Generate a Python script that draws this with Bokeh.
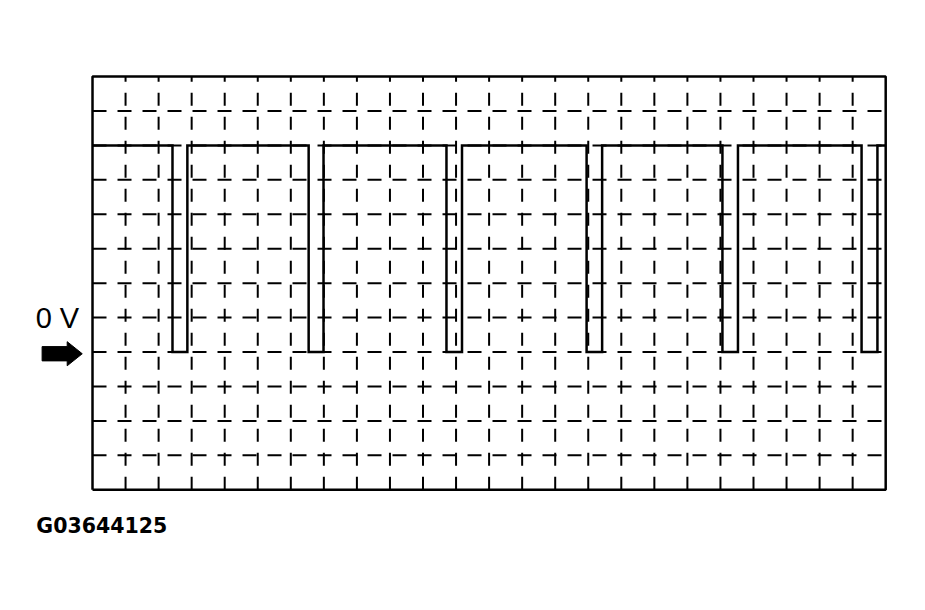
from bokeh.plotting import figure
from bokeh.models import Range1d
from bokeh.embed import file_html
from bokeh.resources import INLINE
from bokeh.core.properties import value

# ---- data (x in screen divisions, y in volts, 2 V per division) ----
x_grid = list(range(1, 24))            # vertical graticule lines
y_grid = list(range(-6, 16, 2))        # horizontal graticule lines (V)
x_min, x_max = 0, 24
y_min, y_max = -8, 16
high_level = 12.0
low_level = 0.0
fall_times = [2.42, 6.54, 10.71, 14.95, 19.06, 23.27]
rise_times = [2.87, 6.99, 11.18, 15.42, 19.53, 23.75]
zero_label = "0 V"
figure_code = "G03644125"

# ---- build trace ----
wx = [x_min]
wy = [high_level]
for f, r in zip(fall_times, rise_times):
    wx += [f, f, r, r]
    wy += [high_level, low_level, low_level, high_level]
wx.append(x_max)
wy.append(high_level)

p = figure(width=900, height=580, output_backend="svg", toolbar_location=None,
           x_axis_location=None, y_axis_location=None,
           x_range=Range1d(-2.784, 24.448), y_range=Range1d(-13.268, 20.413),
           min_border=0, outline_line_color=None)
p.grid.grid_line_color = None
p.background_fill_color = "white"
p.border_fill_color = "white"

# graticule
p.segment(x0=x_grid, y0=[y_min] * len(x_grid), x1=x_grid, y1=[y_max] * len(x_grid),
          line_color="black", line_width=2, line_dash="13 11")
p.segment(x0=[x_min] * len(y_grid), y0=y_grid, x1=[x_max] * len(y_grid), y1=y_grid,
          line_color="black", line_width=2, line_dash="14 11")

# frame
p.line(x=[x_min, x_max, x_max, x_min, x_min], y=[y_min, y_min, y_max, y_max, y_min],
       line_color="black", line_width=2.5)

# waveform
p.line(x=wx, y=wy, line_color="black", line_width=2.5, line_join="miter")

# arrow pointing at the 0 V level
tip_x, tip_y = -0.31, low_level - 0.1
adx = [-1.215, -0.456, -0.456, 0.0, -0.456, -0.456, -1.215]
ady = [0.415, 0.415, 0.70, 0.0, -0.70, -0.415, -0.415]
p.patch(x=[tip_x + d for d in adx], y=[tip_y + d for d in ady],
        fill_color="black", line_color="black", line_width=1)

p.text(x=[-1.72], y=[2.0], text=[zero_label], text_font=value("Liberation Sans"),
       text_font_size="29px", text_baseline="alphabetic", text_align="left",
       text_color="black")
p.text(x=[-1.70], y=[-10.1], text=[figure_code], text_font=value("DejaVu Sans"),
       text_font_style="bold", text_font_size="20.5px", text_baseline="alphabetic",
       text_align="left", text_color="black")

open("out.html", "w").write(file_html(p, INLINE))
